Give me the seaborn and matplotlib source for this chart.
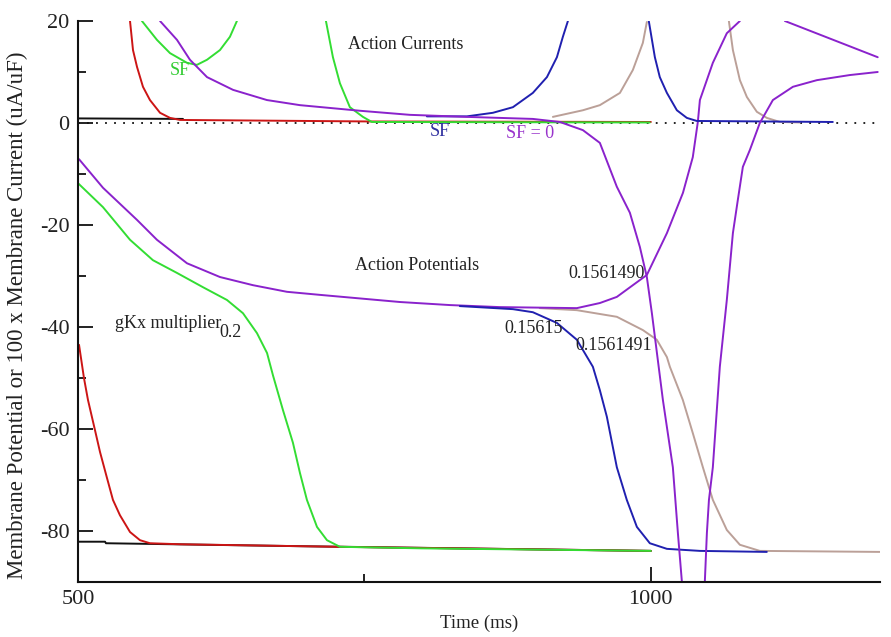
import matplotlib
matplotlib.use("Agg")
import matplotlib.pyplot as plt
import seaborn as sns
from matplotlib.ticker import MultipleLocator, FixedLocator

sns.set_style("ticks")
plt.rcParams['font.family'] = ['Liberation Serif', 'DejaVu Serif']
plt.rcParams['axes.unicode_minus'] = False

# ---------------- data (time in ms, value in mV or 100 x uA/uF) ----------------
# Action potentials
black_ap_t = [500, 523.6, 524.4, 700, 1000]
black_ap_v = [-82.1, -82.1, -82.4, -83.0, -83.9]

red_ap_t = [500.9, 505.2, 508.7, 514.8, 519.2, 525.3, 530.5, 536.6, 545.4, 554.1, 562.8, 589, 728, 1000]
red_ap_v = [-43.5, -50.0, -54.3, -60.2, -64.5, -69.6, -73.9, -76.9, -80.2, -81.8, -82.4, -82.6, -83.1, -83.9]

green_ap_t = [500, 521.8, 545.4, 565.4, 586.4, 609.1, 630, 644, 656.2, 665, 670.2, 678.9, 687.6,
              693.7, 699.8, 708.6, 717.3, 728.6, 800, 1000]
green_ap_v = [-11.8, -16.5, -22.9, -26.9, -29.4, -32.2, -34.7, -37.3, -41.2, -45.1, -49.5, -56.3, -62.7,
              -68.6, -73.9, -79.2, -81.8, -83.1, -83.4, -83.9]

purple_ap_t = [500.9, 521.8, 551.5, 568.9, 595.1, 623.9, 652.7, 682.4, 711.2, 781, 824.6, 868.2, 935.4,
               955.5, 970.3, 984.3, 996.5, 1014, 1028, 1036.6, 1041, 1042.8, 1054.1, 1066.3, 1077.7]
purple_ap_v = [-7.1, -12.7, -19.0, -22.9, -27.5, -30.2, -31.8, -33.1, -33.7, -35.1, -35.7, -36.1, -36.3,
               -35.3, -34.1, -31.8, -29.8, -21.6, -13.7, -6.7, 0.2, 4.5, 11.8, 17.6, 20.0]
purple_ap2_t = [1117, 1198]
purple_ap2_v = [20.0, 12.9]

blue_ap_t = [833.3, 879.6, 897, 918, 935.4, 949.4, 955.5, 961.6, 970.3, 979, 987.8, 999.1, 1014, 1042.8, 1101.2]
blue_ap_v = [-35.9, -36.5, -37.1, -39.2, -42.5, -47.8, -52.4, -57.6, -67.5, -73.9, -79.2, -82.4, -83.5, -83.9, -84.1]

tan_ap_t = [903, 935.4, 970.3, 993, 1005.2, 1014, 1016.6, 1027.9, 1036.6, 1045.4, 1054.1, 1066.3,
            1077.7, 1095.1, 1199.8]
tan_ap_v = [-36.3, -36.7, -38.0, -40.6, -42.5, -45.9, -47.8, -54.3, -60.8, -67.5, -73.9, -79.8,
            -82.7, -83.9, -84.1]

# Action currents (x100)
black_cur_t = [500, 591.6]
black_cur_v = [0.9, 0.8]

red_cur_t = [545.4, 548, 551.5, 556.7, 562.8, 571.6, 580.3, 589, 754.8, 1000]
red_cur_v = [20.0, 14.3, 11.0, 7.1, 4.5, 2.0, 1.0, 0.6, 0.3, 0.2]

green_cur1_t = [555.8, 568.9, 580.3, 595.1, 603.8, 612.6, 623.9, 632.6, 638.7]
green_cur1_v = [20.0, 16.3, 13.7, 11.8, 11.4, 12.4, 14.3, 16.9, 20.0]
green_cur2_t = [716.4, 722.5, 728.6, 737.3, 748.7, 756.5, 999.1]
green_cur2_v = [20.0, 12.9, 7.8, 3.1, 1.2, 0.2, 0.1]

blue_cur1_t = [804.5, 839.4, 862.1, 879.6, 897, 909.3, 918, 923.2, 927.6]
blue_cur1_v = [1.3, 1.3, 2.0, 3.1, 5.9, 9.0, 12.9, 16.9, 20.0]
blue_cur2_t = [998.2, 1003.5, 1007.8, 1014, 1022.7, 1031.4, 1040.1, 1158.8]
blue_cur2_v = [20.0, 12.9, 9.0, 5.9, 2.5, 1.0, 0.4, 0.2]

tan_cur1_t = [914.5, 940.7, 955.5, 973, 984.3, 993, 996.5]
tan_cur1_v = [1.2, 2.5, 3.5, 5.9, 10.4, 15.7, 19.8]
tan_cur2_t = [1068.1, 1071.6, 1077.7, 1083.8, 1092.5, 1101.2, 1112.6, 1130]
tan_cur2_v = [20.0, 14.3, 8.4, 5.1, 2.2, 1.0, 0.2, 0.1]

purple_cur1_t = [571.6, 586.4, 597.7, 612.6, 635.3, 664.9, 693.7, 746.1, 789.7, 839.4, 897, 920.6, 940.7,
                 955.5, 970.3, 981.7, 990.4, 996.5, 1000.9, 1010.5, 1019.2, 1023.6, 1027.1]
purple_cur1_v = [20.0, 16.3, 12.4, 9.0, 6.5, 4.5, 3.5, 2.4, 1.6, 1.2, 0.8, 0.2, -1.4,
                 -3.9, -12.5, -17.6, -24.3, -30.2, -37.3, -54.3, -67.5, -80.4, -90.0]
purple_cur2_t = [1047.1, 1048.9, 1050.7, 1054.1, 1060.2, 1066.3, 1071.6, 1075.9, 1080.3, 1086.4, 1095.1,
                 1106.5, 1124, 1144.9, 1173.6, 1198]
purple_cur2_v = [-90.0, -80.4, -73.9, -67.5, -47.8, -34.7, -21.6, -15.1, -8.6, -5.3, 0.0,
                 4.5, 7.1, 8.4, 9.4, 10.0]

# ---------------- colours ----------------
RED, GREEN, BLUE, PURPLE, TAN, BLACK = '#cc1515', '#33dd33', '#2020b0', '#8a22cc', '#bba098', '#111111'

series = [
    (black_ap_t, black_ap_v, BLACK), (black_cur_t, black_cur_v, BLACK),
    (red_ap_t, red_ap_v, RED), (red_cur_t, red_cur_v, RED),
    (green_ap_t, green_ap_v, GREEN), (green_cur1_t, green_cur1_v, GREEN), (green_cur2_t, green_cur2_v, GREEN),
    (tan_ap_t, tan_ap_v, TAN), (tan_cur1_t, tan_cur1_v, TAN), (tan_cur2_t, tan_cur2_v, TAN),
    (purple_ap_t, purple_ap_v, PURPLE), (purple_ap2_t, purple_ap2_v, PURPLE),
    (blue_ap_t, blue_ap_v, BLUE), (blue_cur1_t, blue_cur1_v, BLUE), (blue_cur2_t, blue_cur2_v, BLUE),
    (purple_cur1_t, purple_cur1_v, PURPLE), (purple_cur2_t, purple_cur2_v, PURPLE),
]

fig = plt.figure(figsize=(8.91, 6.37), dpi=100)
ax = fig.add_axes([78 / 891, 1 - 582 / 637, (880 - 78) / 891, (582 - 21) / 637])

ax.axhline(0, color=BLACK, lw=1.3, ls=(0, (1, 4)), zorder=1)

for t, v, c in series:
    sns.lineplot(x=t, y=v, sort=False, estimator=None, color=c, lw=1.4, ax=ax, zorder=2)

ax.set_xlim(500, 1200)
ax.set_ylim(-90, 20)

ax.xaxis.set_major_locator(FixedLocator([500, 1000]))
ax.xaxis.set_minor_locator(FixedLocator([750]))
ax.set_yticks([20, 0, -20, -40, -60, -80])
ax.yaxis.set_minor_locator(MultipleLocator(10))
ax.tick_params(which='major', direction='in', length=11, width=1.4, labelsize=16, pad=6, colors='#222222')
ax.tick_params(which='minor', direction='in', length=6, width=1.4, colors='#222222')

for s in ['top', 'right']:
    ax.spines[s].set_visible(False)
for s in ['left', 'bottom']:
    ax.spines[s].set_linewidth(1.5)
    ax.spines[s].set_color('#111111')

ax.set_xlabel('Time (ms)', fontsize=13.5, color='#222222', labelpad=4)
ax.set_ylabel('Membrane Potential or 100 x Membrane Current (uA/uF)', fontsize=16.5, color='#222222')
ax.yaxis.set_label_coords(-0.062, 0.476)

tk = dict(fontsize=13, color='#222222')
ax.text(736, 15.3, 'Action Currents', va='center', ha='left', **tk)
ax.text(742, -28, 'Action Potentials', va='center', ha='left', **tk)
ax.text(532, -39.3, 'gKx multiplier', va='center', ha='left', **tk)
ax.text(623, -41.0, '0.2', va='center', ha='left', **tk)
ax.text(995, -29.6, '0.1561490', va='center', ha='right', **tk)
ax.text(898, -40.2, '0.15615', va='center', ha='center', **tk)
ax.text(934, -43.6, '0.1561491', va='center', ha='left', **tk)
ax.text(589, 10.2, 'SF', va='center', ha='center', fontsize=13, color='#33cc33')
ax.text(816, -1.6, 'SF', va='center', ha='center', fontsize=13, color='#3030a0')
ax.text(874, -2.0, 'SF = 0', va='center', ha='left', fontsize=13, color='#9933cc')

fig.savefig('out.png', dpi=100)
